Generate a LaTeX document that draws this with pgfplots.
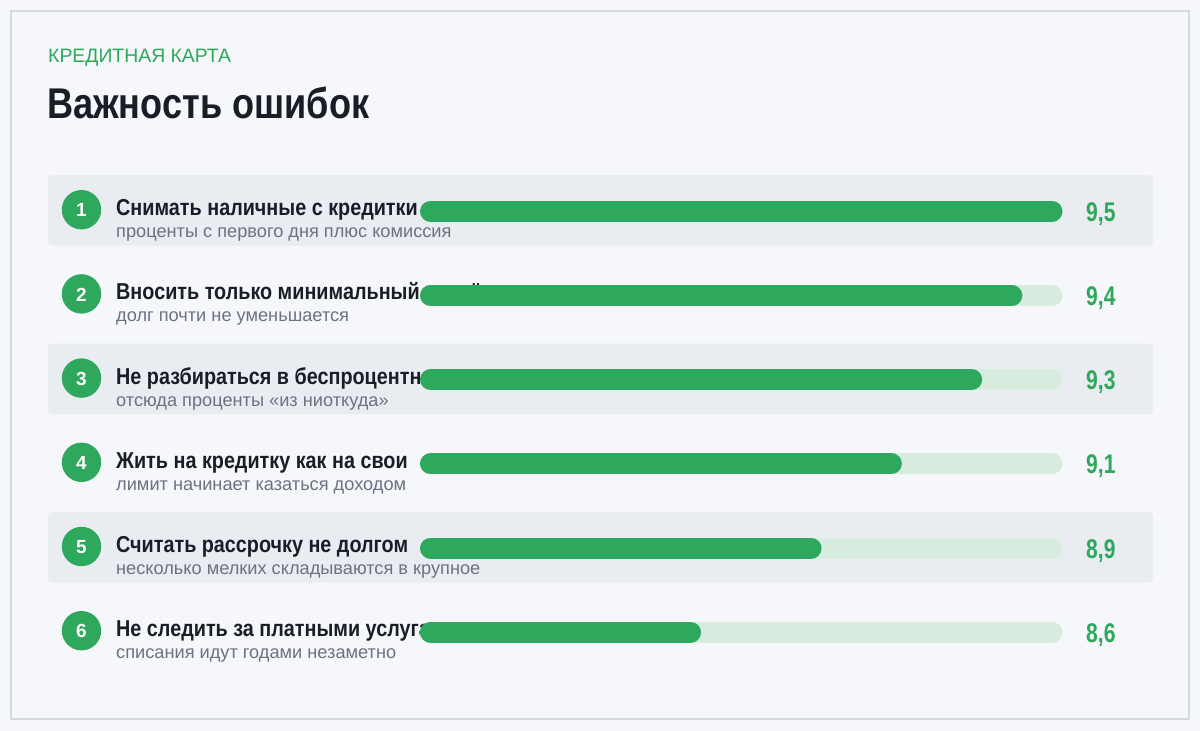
\documentclass[border=0pt]{standalone}
\usepackage{pgfplots}
\pgfplotsset{compat=1.18}
\usepackage{fontspec}
\setmainfont{Liberation Sans}
\newfontfamily\narrowT[FakeStretch=0.84]{Liberation Sans}
\newfontfamily\narrowL[FakeStretch=0.86]{Liberation Sans}
\newfontfamily\narrowV[FakeStretch=0.78]{Liberation Sans}
\definecolor{bg}{HTML}{F5F7FA}
\definecolor{cardborder}{HTML}{D5D9E1}
\definecolor{rowshade}{HTML}{E9ECF1}
\definecolor{accent}{HTML}{2EA85C}
\definecolor{track}{HTML}{D7ECDF}
\definecolor{titlec}{HTML}{1A1D26}
\definecolor{grayc}{HTML}{6B7280}
\newcommand\scorebar[2]{%
  \addplot[draw=track, line width=21pt, line cap=round, shorten <=10.5pt, shorten >=10.5pt] coordinates {(7.9,#2) (9.5,#2)};
  \addplot[draw=accent, line width=21pt, line cap=round, shorten <=10.5pt, shorten >=10.5pt] coordinates {(7.9,#2) (#1,#2)};
}
\begin{document}
\begin{tikzpicture}
\begin{scope}[x=1pt,y=-1pt]
\useasboundingbox (0,0) rectangle (1200,731);
\fill[bg] (0,0) rectangle (1200,731);
\draw[cardborder, line width=2pt, fill=bg] (11,11) rectangle (1189,719);
\node[anchor=base west, inner sep=0, text=accent, font=\fontsize{19.4}{22}\selectfont] at (48,62) {КРЕДИТНАЯ КАРТА};
\node[anchor=base west, inner sep=0, text=titlec, font=\narrowT\bfseries\fontsize{43}{48}\selectfont] at (47,118) {Важность ошибок};
\foreach \c in {209.7,378.1,546.5}
  \fill[rowshade, rounded corners=4pt] (48,\c-34.5) rectangle (1153,\c+36);
\foreach \i/\c in {1/209.7,2/293.9,3/378.1,4/462.3,5/546.5,6/630.7}{
  \fill[accent] (81.5,\c) circle (19.7);
  \node[text=white, font=\bfseries\fontsize{19}{20}\selectfont, inner sep=0] at (81.5,\c+0.5) {\i};
}
\begin{scope}[every node/.style={anchor=base west, inner sep=0}]
\node[text=titlec, font=\narrowL\bfseries\fontsize{23}{26}\selectfont] at (116,209.7+6) {Снимать наличные с кредитки};
\node[text=grayc, font=\fontsize{18.2}{20}\selectfont] at (116,209.7+28) {проценты с первого дня плюс комиссия};
\node[text=titlec, font=\narrowL\bfseries\fontsize{23}{26}\selectfont] at (116,293.9+6) {Вносить только минимальный платёж};
\node[text=grayc, font=\fontsize{18.2}{20}\selectfont] at (116,293.9+28) {долг почти не уменьшается};
\node[text=titlec, font=\narrowL\bfseries\fontsize{23}{26}\selectfont] at (116,378.1+6) {Не разбираться в беспроцентном периоде};
\node[text=grayc, font=\fontsize{18.2}{20}\selectfont] at (116,378.1+28) {отсюда проценты «из ниоткуда»};
\node[text=titlec, font=\narrowL\bfseries\fontsize{23}{26}\selectfont] at (116,462.3+6) {Жить на кредитку как на свои};
\node[text=grayc, font=\fontsize{18.2}{20}\selectfont] at (116,462.3+28) {лимит начинает казаться доходом};
\node[text=titlec, font=\narrowL\bfseries\fontsize{23}{26}\selectfont] at (116,546.5+6) {Считать рассрочку не долгом};
\node[text=grayc, font=\fontsize{18.2}{20}\selectfont] at (116,546.5+28) {несколько мелких складываются в крупное};
\node[text=titlec, font=\narrowL\bfseries\fontsize{23}{26}\selectfont] at (116,630.7+6) {Не следить за платными услугами};
\node[text=grayc, font=\fontsize{18.2}{20}\selectfont] at (116,630.7+28) {списания идут годами незаметно};
\end{scope}
\end{scope}
\begin{axis}[
  at={(420pt,-674.3pt)}, anchor=south west,
  scale only axis, width=642.5pt, height=505.2pt,
  xmin=7.9, xmax=9.5, ymin=0.5, ymax=6.5, y dir=reverse,
  hide axis, clip=false,
]
\scorebar{9.5}{1}
\scorebar{9.4}{2}
\scorebar{9.3}{3}
\scorebar{9.1}{4}
\scorebar{8.9}{5}
\scorebar{8.6}{6}
\node[anchor=base west, inner sep=0, text=accent, font=\narrowV\bfseries\fontsize{27}{30}\selectfont, xshift=23.5pt, yshift=-10pt] at (axis cs:9.5,1) {9,5};
\node[anchor=base west, inner sep=0, text=accent, font=\narrowV\bfseries\fontsize{27}{30}\selectfont, xshift=23.5pt, yshift=-10pt] at (axis cs:9.5,2) {9,4};
\node[anchor=base west, inner sep=0, text=accent, font=\narrowV\bfseries\fontsize{27}{30}\selectfont, xshift=23.5pt, yshift=-10pt] at (axis cs:9.5,3) {9,3};
\node[anchor=base west, inner sep=0, text=accent, font=\narrowV\bfseries\fontsize{27}{30}\selectfont, xshift=23.5pt, yshift=-10pt] at (axis cs:9.5,4) {9,1};
\node[anchor=base west, inner sep=0, text=accent, font=\narrowV\bfseries\fontsize{27}{30}\selectfont, xshift=23.5pt, yshift=-10pt] at (axis cs:9.5,5) {8,9};
\node[anchor=base west, inner sep=0, text=accent, font=\narrowV\bfseries\fontsize{27}{30}\selectfont, xshift=23.5pt, yshift=-10pt] at (axis cs:9.5,6) {8,6};
\end{axis}
\end{tikzpicture}
\end{document}
